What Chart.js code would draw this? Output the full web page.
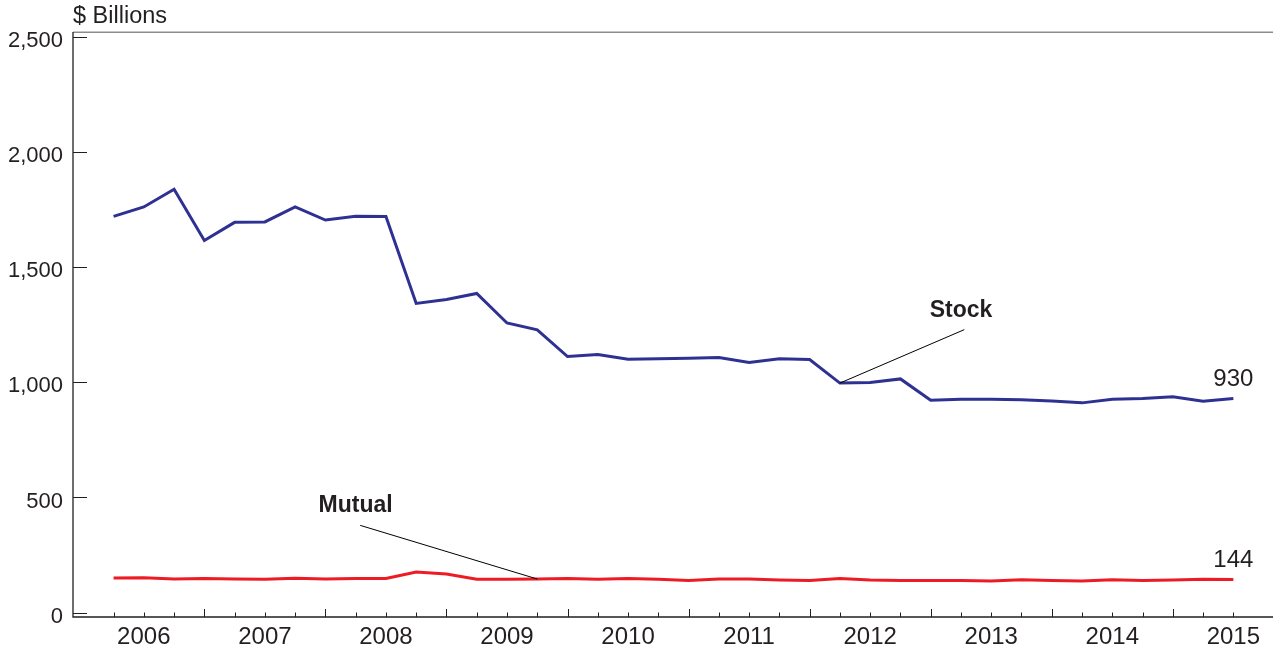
<!DOCTYPE html>
<html>
<head>
<meta charset="utf-8">
<script src="https://cdn.jsdelivr.net/npm/chart.js@4"></script>
<style>
html,body{margin:0;padding:0;background:#fff;}
#wrap{width:1273px;height:649px;}
</style>
</head>
<body>
<div id="wrap"><canvas id="c" width="1273" height="649"></canvas></div>
<script>
// ---- data ----
const quarters = [
  '2006Q1','2006Q2','2006Q3','2006Q4','2007Q1','2007Q2','2007Q3','2007Q4',
  '2008Q1','2008Q2','2008Q3','2008Q4','2009Q1','2009Q2','2009Q3','2009Q4',
  '2010Q1','2010Q2','2010Q3','2010Q4','2011Q1','2011Q2','2011Q3','2011Q4',
  '2012Q1','2012Q2','2012Q3','2012Q4','2013Q1','2013Q2','2013Q3','2013Q4',
  '2014Q1','2014Q2','2014Q3','2014Q4','2015Q1','2015Q2'
];
const stock = [1721,1762,1839,1616,1695,1697,1762,1705,1721,1720,1343,1360,1386,1258,1228,1112,
  1121,1100,1103,1105,1108,1086,1103,1099,997,999,1015,922,927,927,925,919,911,927,930,938,918,930];
const mutual = [150,152,146,148,146,145,149,146,148,148,176,168,145,145,146,148,
  145,148,145,140,146,146,142,139,148,142,140,139,140,137,143,140,137,143,140,142,145,144];
const yTicks = [0,500,1000,1500,2000,2500];
const yUnit = '$ Billions';
const seriesNames = ['Stock','Mutual'];

// ---- styling / annotation placement (data units) ----
const FONT = "'Liberation Sans', Arial, Helvetica, sans-serif";
const TEXT = '#231f20';
const callouts = [
  {name:'Stock',  data:stock,  target:24, labelX:28.0, labelY:1313, fromX:28.11, fromY:1229},
  {name:'Mutual', data:mutual, target:14, labelX:8.0,  labelY:464,  fromX:8.15,  fromY:379}
];

const frame = {
  id:'frame',
  afterDraw(chart){
    const {ctx, chartArea:a, scales:{x, y}} = chart;
    ctx.save();
    // top rule
    ctx.strokeStyle = '#8c8c8c'; ctx.lineWidth = 1.6;
    ctx.beginPath(); ctx.moveTo(a.left, a.top + 0.3); ctx.lineTo(chart.width, a.top + 0.3); ctx.stroke();
    // axes
    ctx.strokeStyle = TEXT; ctx.lineWidth = 1.3;
    ctx.beginPath(); ctx.moveTo(a.left, a.top); ctx.lineTo(a.left, a.bottom); ctx.lineTo(chart.width, a.bottom); ctx.stroke();
    // y ticks (inward)
    ctx.lineWidth = 1;
    yTicks.forEach(v => {
      const py = Math.round(y.getPixelForValue(v)) + 0.5;
      ctx.beginPath(); ctx.moveTo(a.left, py); ctx.lineTo(a.left + 14, py); ctx.stroke();
    });
    // x ticks (inward, quarterly; longer at year boundaries)
    quarters.forEach((q, i) => {
      const px = Math.round(x.getPixelForValue(i)) + 0.5;
      const len = q.endsWith('Q4') ? 8 : 4.5;
      ctx.beginPath(); ctx.moveTo(px, a.bottom); ctx.lineTo(px, a.bottom - len); ctx.stroke();
    });
    // unit label
    ctx.fillStyle = TEXT;
    ctx.font = '23.5px ' + FONT;
    ctx.textAlign = 'left'; ctx.textBaseline = 'alphabetic';
    ctx.fillText(yUnit, a.left, 23);
    // callouts
    callouts.forEach(c => {
      ctx.strokeStyle = '#000'; ctx.lineWidth = 1;
      ctx.beginPath();
      ctx.moveTo(x.getPixelForValue(c.fromX), y.getPixelForValue(c.fromY));
      ctx.lineTo(x.getPixelForValue(c.target), y.getPixelForValue(c.data[c.target]));
      ctx.stroke();
      ctx.font = 'bold 23px ' + FONT;
      ctx.textAlign = 'center'; ctx.textBaseline = 'middle';
      ctx.fillStyle = TEXT;
      ctx.fillText(c.name, x.getPixelForValue(c.labelX), y.getPixelForValue(c.labelY));
    });
    // end-value labels
    ctx.font = '24px ' + FONT;
    ctx.textAlign = 'center'; ctx.textBaseline = 'middle';
    [stock, mutual].forEach(d => {
      const last = d.length - 1;
      ctx.fillText(String(d[last]), x.getPixelForValue(last), y.getPixelForValue(d[last]) - 19);
    });
    ctx.restore();
  }
};

new Chart(document.getElementById('c'), {
  type:'line',
  data:{
    datasets:[
      {label:seriesNames[0], data:stock.map((v,i)=>({x:i,y:v})), borderColor:'#2e3192', borderWidth:3, pointRadius:0, tension:0, fill:false},
      {label:seriesNames[1], data:mutual.map((v,i)=>({x:i,y:v})), borderColor:'#ed1c24', borderWidth:3, pointRadius:0, tension:0, fill:false}
    ]
  },
  options:{
    responsive:false, animation:false,
    layout:{padding:{top:32,left:0,right:0,bottom:0}},
    plugins:{legend:{display:false}, tooltip:{enabled:false}},
    scales:{
      x:{
        type:'linear', min:-1.34, max:38.31,
        grid:{display:false, drawTicks:false}, border:{display:false},
        afterBuildTicks:s=>{ s.ticks = quarters.map((q,i)=>q.endsWith('Q2')?{value:i}:null).filter(Boolean); },
        afterFit:s=>{ s.height = 32; },
        ticks:{autoSkip:false, maxRotation:0, padding:6, color:TEXT, font:{size:24, family:FONT},
          callback:v=>quarters[v] ? quarters[v].slice(0,4) : ''}
      },
      y:{
        type:'linear', min:-19, max:2521.7,
        grid:{display:false, drawTicks:false}, border:{display:false},
        afterBuildTicks:s=>{ s.ticks = yTicks.map(v=>({value:v})); },
        afterFit:s=>{ s.width = 73; },
        ticks:{padding:10, labelOffset:4, color:TEXT, font:{size:22, family:FONT},
          callback:v=>v.toLocaleString('en-US')}
      }
    }
  },
  plugins:[frame]
});
</script>
</body>
</html>
